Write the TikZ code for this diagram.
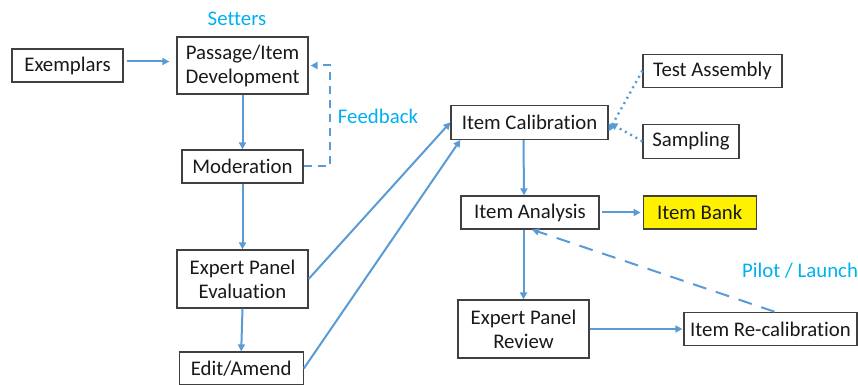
\documentclass[tikz,border=0pt]{standalone}
\usepackage{fontspec}
\setmainfont{Carlito}[Ligatures=NoCommon]
\usepackage{tikz}
\usetikzlibrary{arrows.meta}
\usepackage{xcolor}
\definecolor{flowblue}{HTML}{5B9BD5}
\definecolor{labelblue}{HTML}{00B0F0}
\definecolor{boxgray}{HTML}{404040}

\begin{document}
\begin{tikzpicture}[x=0.5pt,y=0.5pt,yscale=-1,xscale=1,
  box/.style={draw=boxgray,line width=0.6pt,inner sep=0pt,align=center,font=\fontsize{10.4}{12}\selectfont,text=black!90},
  flow/.style={draw=flowblue,line width=1pt,-{Triangle[length=3.5pt,width=3.5pt]}},
  note/.style={text=labelblue,font=\fontsize{10.4}{12}\selectfont,inner sep=0pt}]
\useasboundingbox (0,0) rectangle (858,385);

%Shape: Rectangle [id:exemplars]
\node[box,minimum width=55.5pt,minimum height=16.5pt] (ex) at (67.5,65.5) {Exemplars};
%Shape: Rectangle [id:passage]
\node[box,minimum width=65.5pt,minimum height=28.5pt] (pd) at (242.5,65.5) {Passage/Item\\Development};
%Shape: Rectangle [id:moderation]
\node[box,minimum width=60.5pt,minimum height=16.5pt] (mod) at (242.5,166.5) {Moderation};
%Shape: Rectangle [id:panel eval]
\node[box,minimum width=65.5pt,minimum height=29pt] (epe) at (242.5,279) {Expert Panel\\Evaluation};
%Shape: Rectangle [id:edit]
\node[box,minimum width=62pt,minimum height=16.5pt] (edit) at (241.2,368.5) {Edit/Amend};
%Shape: Rectangle [id:calibration]
\node[box,minimum width=78.5pt,minimum height=17pt] (ic) at (529.5,122.3) {Item Calibration};
%Shape: Rectangle [id:assembly]
\node[box,minimum width=69.5pt,minimum height=16.5pt] (ta) at (712.5,70.7) {Test Assembly};
%Shape: Rectangle [id:sampling]
\node[box,minimum width=48pt,minimum height=17pt] (sp) at (691,141.3) {Sampling};
%Shape: Rectangle [id:analysis]
\node[box,minimum width=69pt,minimum height=16.5pt] (ia) at (530,212.5) {Item Analysis};
%Shape: Rectangle [id:bank]
\node[box,fill=yellow,minimum width=56.5pt,minimum height=16.5pt] (ib) at (699.7,212.5) {Item Bank};
%Shape: Rectangle [id:panel review]
\node[box,minimum width=65.5pt,minimum height=29pt] (epr) at (523.5,329) {Expert Panel\\Review};
%Shape: Rectangle [id:recalibration]
\node[box,minimum width=86.5pt,minimum height=16.7pt] (ir) at (770.5,329) {Item Re-calibration};

% Text Node
\node[note] (setters) at (237,19) {Setters};
% Text Node
\node[note] (fb) at (378,116) {Feedback};
% Text Node
\node[note] (pilot) at (800,271) {Pilot / Launch};

%Straight Lines
\draw[flow,shorten <=1.5pt,shorten >=3.5pt] ([yshift=-2pt]ex.east) -- ([yshift=-2pt]pd.west);
\draw[flow] (pd.south) -- (mod.north);
\draw[flow] (mod.south) -- (epe.north);
\draw[flow] (epe.south) -- (edit.north);
\draw[flow,dashed,dash pattern=on 4pt off 3pt,shorten >=1pt] (mod.east) -- ++(13pt,0) |- (pd.east);
\draw[flow] (epe.east) -- (ic.west);
\draw[flow] (edit.east) -- ([xshift=5pt]ic.south west);
\draw[flow,dotted,line width=1.2pt] (ta.west) -- ([yshift=4.5pt]ic.east);
\draw[flow,dotted,line width=1.2pt,shorten >=1pt] (sp.west) -- (ic.east);
\draw[flow] ([xshift=-3pt]ic.south) -- ([xshift=-3pt]ia.north);
\draw[flow,shorten <=1pt,shorten >=1pt] (ia.east) -- (ib.west);
\draw[flow] (ia.south -| epr.north) -- (epr.north);
\draw[flow,shorten >=0.5pt] (epr.east) -- (ir.west);
\draw[flow,dashed,dash pattern=on 7pt off 5pt] ([xshift=2pt]ir.north) -- ([xshift=1pt]ia.south);

\end{tikzpicture}
\end{document}
